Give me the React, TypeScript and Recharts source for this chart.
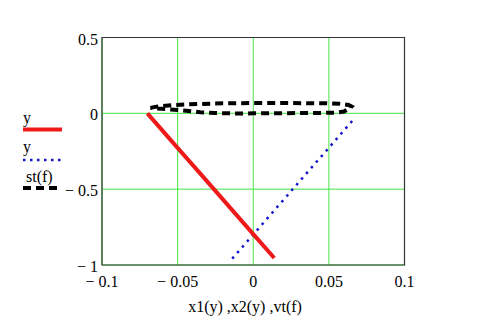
import React from "react";
import {
  ComposedChart,
  Line,
  XAxis,
  YAxis,
  CartesianGrid,
  ReferenceArea,
  Legend,
} from "recharts";

// x1(y) vs y — red solid
const redX = [-0.07, -0.0525, -0.035, -0.0175, 0, 0.0139];
const redY = [0, -0.2, -0.398, -0.597, -0.796, -0.954];

// x2(y) vs y — blue dotted
const blueX = [-0.0139, 0.0065, 0.027, 0.048, 0.0669];
const blueY = [-0.958, -0.725, -0.49, -0.25, -0.033];

// vt(f) vs st(f) — black dashed loop
const loopX = [
  -0.068, -0.064, -0.058, -0.048, -0.035, -0.02, 0, 0.02, 0.035, 0.048, 0.057,
  0.063, 0.065, 0.064, 0.06, 0.055, 0.04, 0.02, 0, -0.01, -0.025, -0.035,
  -0.048, -0.058, -0.068,
];
const loopY = [
  0.036, 0.044, 0.05, 0.057, 0.062, 0.066, 0.068, 0.068, 0.067, 0.066, 0.063,
  0.055, 0.045, 0.035, 0.012, 0.004, 0.002, 0.001, 0, -0.001, 0.002, 0.007,
  0.02, 0.028, 0.036,
];

const xTicks = [-0.1, -0.05, 0, 0.05, 0.1];
const yTicks = [-1, -0.5, 0, 0.5];
const legendLabels = ["y", "y", "st(f)"];
const axisTitle = "x1(y) ,x2(y) ,vt(f)";

const zip = (xs: number[], ys: number[]) => xs.map((x, i) => ({ x, y: ys[i] }));
const redData = zip(redX, redY);
const blueData = zip(blueX, blueY);
const loopData = zip(loopX, loopY);

const FONT = "'Liberation Serif', 'Times New Roman', serif";
const RED = "#ee1a1a";
const BLUE = "#1414c8";
const BLACK = "#000000";
const GRID = "#44e644";

const fmt = (v: number) => (v < 0 ? "\u2212 " + Math.abs(v) : String(v));

const XTick = (props: any) => {
  const { x, y, payload } = props;
  return (
    <text x={x} y={y + 21.5} textAnchor="middle" fontFamily={FONT} fontSize={16} fill="#000">
      {fmt(payload.value)}
    </text>
  );
};

const YTick = (props: any) => {
  const { x, y, payload } = props;
  return (
    <text x={x - 4} y={y + 7} textAnchor="end" fontFamily={FONT} fontSize={16} fill="#000">
      {fmt(payload.value)}
    </text>
  );
};

const legendStyles = [
  { color: RED, dash: undefined as string | undefined, width: 4 },
  { color: BLUE, dash: "2.5 4.5", width: 2.5 },
  { color: BLACK, dash: "8 5", width: 4 },
];
const legendTextY = [123, 152, 182];
const legendLineY = [129.5, 160, 188];
const legendTextX = [23, 23, 26];

const LegendContent = () => (
  <svg width={100} height={200} style={{ display: "block", overflow: "visible", position: "absolute", left: 0, top: 0 }}>
    {legendLabels.map((lab, i) => (
      <g key={i}>
        <text x={legendTextX[i]} y={legendTextY[i]} fontFamily={FONT} fontSize={16} fill="#000">
          {lab}
        </text>
        <line
          x1={23}
          x2={62}
          y1={legendLineY[i]}
          y2={legendLineY[i]}
          stroke={legendStyles[i].color}
          strokeWidth={legendStyles[i].width}
          strokeDasharray={legendStyles[i].dash}
        />
      </g>
    ))}
  </svg>
);

const TitleLabel = () => (
  <text x={245} y={312} textAnchor="middle" fontFamily={FONT} fontSize={16} fill="#000">
    {axisTitle}
  </text>
);

export default function App() {
  return (
    <div style={{ position: "absolute", left: 0, top: 0, width: 488, height: 334, background: "#fff" }}>
      <ComposedChart
        width={488}
        height={334}
        margin={{ top: 37.5, right: 83.5, bottom: 39, left: 0 }}
      >
        <CartesianGrid stroke={GRID} strokeWidth={1} horizontalValues={yTicks} verticalValues={xTicks} />
        <XAxis
          type="number"
          dataKey="x"
          domain={[-0.1, 0.1]}
          ticks={xTicks}
          allowDataOverflow
          axisLine={false}
          tickLine={false}
          tickSize={0}
          tickMargin={0}
          height={30}
          tick={<XTick />}
          interval={0}
          label={<TitleLabel />}
        />
        <YAxis
          type="number"
          dataKey="y"
          domain={[-1, 0.5]}
          ticks={yTicks}
          allowDataOverflow
          axisLine={false}
          tickLine={false}
          tickSize={0}
          tickMargin={0}
          width={102}
          tick={<YTick />}
          interval={0}
        />
        <ReferenceArea x1={-0.1} x2={0.1} y1={-1} y2={0.5} fill="none" stroke="#333" strokeWidth={1.2} ifOverflow="visible" />
        <Line
          data={loopData}
          dataKey="y"
          name="st(f)"
          type="linear"
          stroke={BLACK}
          strokeWidth={4}
          strokeDasharray="8 5"
          dot={false}
          activeDot={false}
          isAnimationActive={false}
          legendType="none"
        />
        <Line
          data={blueData}
          dataKey="y"
          name="y2"
          type="linear"
          stroke={BLUE}
          strokeWidth={2.5}
          strokeDasharray="2.5 5"
          dot={false}
          activeDot={false}
          isAnimationActive={false}
          legendType="none"
        />
        <Line
          data={redData}
          dataKey="y"
          name="y"
          type="linear"
          stroke={RED}
          strokeWidth={4}
          dot={false}
          activeDot={false}
          isAnimationActive={false}
          legendType="none"
        />
        <Legend
          content={<LegendContent />}
          wrapperStyle={{ position: "absolute", left: 0, top: 0, width: 0, height: 0, overflow: "visible" }}
        />
      </ComposedChart>
    </div>
  );
}
